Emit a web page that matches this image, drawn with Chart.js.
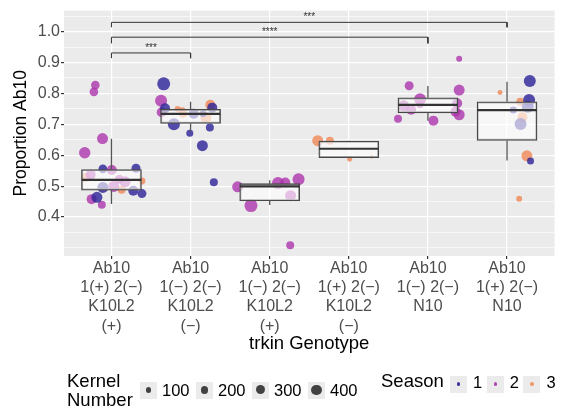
<!DOCTYPE html>
<html>
<head>
<meta charset="utf-8">
<script src="https://cdn.jsdelivr.net/npm/chart.js@4.4.0/dist/chart.umd.min.js"></script>
<style>
  html, body { margin: 0; padding: 0; background: #fff; }
  #wrap { position: relative; width: 561px; height: 415px; font-family: "Liberation Sans", Arial, sans-serif; }
  #chart { position: absolute; left: 0; top: 0; }
  .lg { position: absolute; white-space: nowrap; color: #000; }
  .key { position: absolute; width: 17px; height: 17px; background: #ebebeb; }
  .dot { position: absolute; border-radius: 50%; }
</style>
</head>
<body>
<div id="wrap">
  <canvas id="chart" width="561" height="415"></canvas>
  <div id="legend"></div>
</div>
<script>
// categories (x axis)
const genotypeLabels = [
  ['Ab10', '1(+) 2(−)', 'K10L2', '(+)'],
  ['Ab10', '1(−) 2(−)', 'K10L2', '(−)'],
  ['Ab10', '1(−) 2(−)', 'K10L2', '(+)'],
  ['Ab10', '1(+) 2(−)', 'K10L2', '(−)'],
  ['Ab10', '1(−) 2(−)', 'N10'],
  ['Ab10', '1(+) 2(−)', 'N10']
];

// boxplot stats per genotype
const boxLow    = [0.442, 0.677, 0.439, 0.592, 0.712, 0.583];
const boxQ1     = [0.487, 0.703, 0.452, 0.592, 0.737, 0.648];
const boxMedian = [0.520, 0.734, 0.499, 0.621, 0.763, 0.746];
const boxQ3     = [0.554, 0.749, 0.508, 0.646, 0.786, 0.773];
const boxHigh   = [0.653, 0.773, 0.519, 0.647, 0.824, 0.838];

// jittered points: genotype (1-6), jitter offset, proportion, kernel number, season
const pointGenotype = [
  1,1,1,1,1,1,1,1,1,1,1,1,1,1,1,1,1,1,1,1,
  2,2,2,2,2,2,2,2,2,2,2,2,2,2,2,2,2,
  3,3,3,3,3,3,3,
  4,4,4,4,
  5,5,5,5,5,5,5,5,5,5,5,5,
  6,6,6,6,6,6,6,6,6,6,6
];
const pointJitter = [
  -0.204,-0.222,-0.113,-0.338,-0.109,0.004,0.310,-0.263,-0.326,0.100,0.172,0.385,-0.109,0.029,0.129,0.276,0.385,-0.184,-0.251,-0.122,
  -0.340,-0.373,-0.323,-0.365,-0.164,-0.094,0.040,0.157,0.194,0.249,0.274,-0.211,-0.010,0.244,0.149,0.294,-0.107,
  -0.405,-0.237,0.105,0.197,0.365,0.264,0.259,
  -0.393,-0.239,0.011,0.287,
  0.395,-0.237,0.395,-0.099,-0.307,-0.212,0.370,0.348,0.395,-0.378,0.069,-0.099,
  0.288,-0.088,0.279,0.167,0.263,0.079,0.196,0.171,0.251,0.297,0.154
];
const pointProportion = [
  0.827,0.805,0.654,0.608,0.556,0.552,0.558,0.537,0.528,0.522,0.514,0.517,0.496,0.499,0.488,0.485,0.476,0.464,0.458,0.440,
  0.831,0.776,0.752,0.739,0.750,0.734,0.734,0.734,0.722,0.763,0.754,0.700,0.671,0.690,0.631,0.513,0.744,
  0.498,0.437,0.510,0.512,0.522,0.469,0.309,
  0.647,0.647,0.587,0.595,
  0.912,0.825,0.811,0.781,0.760,0.747,0.768,0.741,0.731,0.718,0.712,0.763,
  0.840,0.803,0.779,0.773,0.757,0.746,0.723,0.701,0.598,0.581,0.459
];
const pointKernels = [
  274,274,447,480,274,370,300,370,300,300,447,181,447,447,237,370,300,447,370,237,
  625,533,370,370,133,237,370,181,447,370,370,533,181,237,447,237,181,
  447,625,533,370,533,447,237,
  447,237,92,48,
  133,300,447,533,447,370,370,370,447,237,370,181,
  533,92,533,237,533,181,370,533,447,181,133
];
const pointSeason = [
  2,2,2,2,1,2,1,2,3,2,2,3,1,2,3,1,1,1,2,2,
  1,2,1,2,3,3,1,1,3,3,1,1,1,1,1,1,3,
  2,2,2,2,2,2,2,
  3,3,3,3,
  2,2,2,2,2,2,2,2,2,2,2,2,
  1,3,1,3,1,1,3,1,3,1,3
];

// legends
const seasonNames = ['1', '2', '3'];
const seasonColors = ['rgba(48,38,152,0.82)', 'rgba(172,52,172,0.8)', 'rgba(240,135,86,0.8)'];
const seasonKeyColors = ['#3b3597', '#b347b3', '#f29a6a'];
const legendKernels = [100, 200, 300, 400];

// y axis
const yTickValues = [0.4, 0.5, 0.6, 0.7, 0.8, 0.9, 1.0];
const yGridValues = [0.30, 0.35, 0.40, 0.45, 0.50, 0.55, 0.60, 0.65, 0.70, 0.75, 0.80, 0.85, 0.90, 0.95, 1.00, 1.05];

// significance brackets
const bracketStart = [1, 1, 1];
const bracketEnd = [2, 5, 6];
const bracketHeight = [0.931, 0.982, 1.030];
const bracketTip = [0.914, 0.962, 1.014];
const bracketLabel = ['***', '****', '***'];

const FONT = '"Liberation Sans", Arial, sans-serif';

function kernelRadius(n) { return 0.26 * Math.sqrt(n); }
function isLabeled(v) { return yTickValues.some(t => Math.abs(t - v) < 1e-6); }

const pointDatasets = seasonNames.map((s, si) => ({
  type: 'bubble',
  label: 'Season ' + s,
  order: 3,
  data: pointProportion
    .map((y, i) => ({ x: pointGenotype[i] + pointJitter[i], y: y, r: kernelRadius(pointKernels[i]), s: pointSeason[i] }))
    .filter(p => p.s === si + 1),
  backgroundColor: seasonColors[si],
  borderWidth: 0
}));

const whiskerData = [];
const medianData = [];
boxLow.forEach((lo, i) => {
  const x = i + 1;
  whiskerData.push({ x: x, y: lo }, { x: x, y: boxQ1[i] }, { x: x, y: null },
                   { x: x, y: boxQ3[i] }, { x: x, y: boxHigh[i] }, { x: x, y: null });
  medianData.push({ x: x - 0.376, y: boxMedian[i] }, { x: x + 0.376, y: boxMedian[i] }, { x: x, y: null });
});

const bracketData = [];
bracketStart.forEach((a, i) => {
  const b = bracketEnd[i];
  bracketData.push({ x: a, y: bracketTip[i] }, { x: a, y: bracketHeight[i] },
                   { x: b, y: bracketHeight[i] }, { x: b, y: bracketTip[i] }, { x: b, y: null });
});

const panelBg = {
  id: 'panelBg',
  beforeDraw(chart) {
    const a = chart.chartArea, ctx = chart.ctx;
    ctx.save();
    ctx.fillStyle = '#ebebeb';
    ctx.fillRect(a.left, a.top, a.right - a.left, a.bottom - a.top);
    ctx.restore();
  }
};

const starLabels = {
  id: 'starLabels',
  afterDatasetsDraw(chart) {
    const ctx = chart.ctx, xs = chart.scales.x, ys = chart.scales.y;
    ctx.save();
    ctx.fillStyle = '#333';
    ctx.font = '10px ' + FONT;
    ctx.textAlign = 'center';
    ctx.textBaseline = 'middle';
    bracketLabel.forEach((t, i) => {
      const x = xs.getPixelForValue((bracketStart[i] + bracketEnd[i]) / 2);
      const y = ys.getPixelForValue(bracketHeight[i]) - 5;
      ctx.fillText(t, x, y);
    });
    ctx.restore();
  }
};

new Chart(document.getElementById('chart'), {
  type: 'bubble',
  data: {
    datasets: [
      ...pointDatasets,
      {
        type: 'bar',
        label: 'box',
        order: 2,
        data: boxQ1.map((q1, i) => ({ x: i + 1, y: [q1, boxQ3[i]] })),
        backgroundColor: 'rgba(255,255,255,0.62)',
        borderColor: '#484848',
        borderWidth: 1.3,
        borderSkipped: false,
        barThickness: 60,
        grouped: false
      },
      {
        type: 'line', label: 'whiskers', order: 1, data: whiskerData,
        borderColor: '#555', borderWidth: 1.3, pointRadius: 0, spanGaps: false, fill: false
      },
      {
        type: 'line', label: 'median', order: 1, data: medianData,
        borderColor: '#333', borderWidth: 2.2, pointRadius: 0, spanGaps: false, fill: false
      },
      {
        type: 'line', label: 'brackets', order: 0, data: bracketData,
        borderColor: '#333', borderWidth: 1, pointRadius: 0, spanGaps: false, fill: false
      }
    ]
  },
  options: {
    responsive: false,
    animation: false,
    events: [],
    layout: { padding: { left: 0, right: 3, top: 8, bottom: 0 } },
    plugins: { legend: { display: false }, tooltip: { enabled: false } },
    scales: {
      x: {
        type: 'linear',
        min: 0.4,
        max: 6.6,
        offset: false,
        border: { display: false },
        grid: { color: '#fff', lineWidth: 1.2, tickColor: '#333', tickLength: 3, offset: false },
        afterBuildTicks: s => { s.ticks = genotypeLabels.map((_, i) => ({ value: i + 1 })); },
        afterFit: s => { s.height = 159; },
        ticks: {
          autoSkip: false, maxRotation: 0, padding: 0, color: '#4d4d4d',
          font: { family: FONT, size: 16, lineHeight: 1.2 },
          callback: v => genotypeLabels[Math.round(v) - 1]
        },
        title: {
          display: true, text: 'trkin Genotype', color: '#000',
          font: { family: FONT, size: 18.5 },
          padding: { top: 0, bottom: 60 }
        }
      },
      y: {
        type: 'linear',
        min: 0.274,
        max: 1.068,
        border: { display: false },
        grid: {
          color: '#fff',
          lineWidth: c => (c.tick && isLabeled(c.tick.value)) ? 1.2 : 0.6,
          tickColor: c => (c.tick && isLabeled(c.tick.value)) ? '#333' : 'rgba(0,0,0,0)',
          tickLength: 3
        },
        afterBuildTicks: s => { s.ticks = yGridValues.map(v => ({ value: v })); },
        afterFit: s => { s.width = 64; },
        ticks: {
          autoSkip: false, padding: 1, color: '#4d4d4d',
          font: { family: FONT, size: 16 },
          callback: v => isLabeled(v) ? v.toFixed(1) : ''
        },
        title: {
          display: true, text: 'Proportion Ab10', color: '#000',
          font: { family: FONT, size: 17.5 },
          padding: { top: 11, bottom: 0 }
        }
      }
    }
  },
  plugins: [panelBg, starLabels]
});

// legend below the plot, as html text
const legend = document.getElementById('legend');
function addText(txt, left, top, size, lh) {
  const d = document.createElement('div');
  d.className = 'lg';
  d.style.left = left + 'px';
  d.style.top = top + 'px';
  d.style.fontSize = size + 'px';
  d.style.lineHeight = lh + 'px';
  d.innerHTML = txt;
  legend.appendChild(d);
}
function addKey(left, centerY, r, color) {
  const k = document.createElement('div');
  k.className = 'key';
  k.style.left = left + 'px';
  k.style.top = (centerY - 8.5) + 'px';
  legend.appendChild(k);
  const d = document.createElement('div');
  d.className = 'dot';
  d.style.width = d.style.height = (2 * r) + 'px';
  d.style.left = (left + 8.5 - r) + 'px';
  d.style.top = (centerY - r) + 'px';
  d.style.background = color;
  legend.appendChild(d);
}

addText('Kernel<br>Number', 67, 370.5, 18.5, 19.5);
legendKernels.forEach((n, i) => {
  const left = 140 + i * 56;
  addKey(left, 390, kernelRadius(n), 'rgba(0,0,0,0.72)');
  addText(String(n), left + 22, 380.5, 16.5, 19);
});
addText('Season', 381, 370.5, 18.5, 19.5);
seasonNames.forEach((s, i) => {
  const left = 450 + i * 36.7;
  addKey(left, 384, 1.7, seasonKeyColors[i]);
  addText(s, left + 23, 373, 16.5, 19);
});
</script>
</body>
</html>
